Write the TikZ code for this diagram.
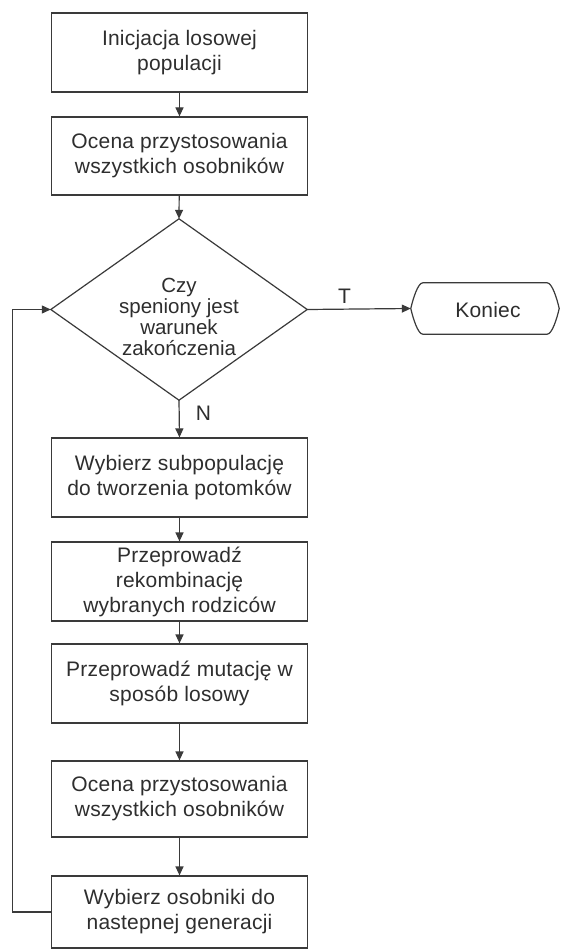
\documentclass[tikz,border=0pt]{standalone}
\usepackage{fontspec}
\setmainfont{Liberation Sans}
\newfontfamily\spacedfont[LetterSpace=1]{Liberation Sans}
\usetikzlibrary{arrows.meta,calc}
\definecolor{ink}{HTML}{2E2E2E}
\definecolor{edge}{HTML}{3A3A3A}
\begin{document}
\begin{tikzpicture}[x=1pt,y=-1pt,
  every node/.style={text=ink},
  txt/.style={font=\spacedfont\fontsize{21}{25}\selectfont, align=center, inner sep=0pt},
  stepbox/.style={txt, draw=edge, line width=1.2pt, minimum width=256pt},
  shapeline/.style={draw=edge, line width=1.2pt},
  arr/.style={draw=edge, line width=1.2pt, -{Triangle[length=9pt,width=8pt]}},
  lbl/.style={font=\fontsize{21}{22}\selectfont, inner sep=0pt}]
\useasboundingbox (0,0) rectangle (561,952);
\fill[white] (0,0) rectangle (561,952);

\node[stepbox, minimum height=79pt] (b1) at (179.5,52.5) {Inicjacja losowej\\populacji};
\node[stepbox, minimum height=78pt] (b2) at (179.5,156) {Ocena przystosowania\\wszystkich osobników};

\node[minimum width=256pt, minimum height=181pt, inner sep=0pt] (d) at (179,309.5) {};
\draw[shapeline] (d.north) -- (d.east) -- (d.south) -- (d.west) -- cycle;
\node[txt, font=\fontsize{20.5}{21}\selectfont] (dt) at (179,317) {Czy\\speniony jest\\warunek\\zakończenia};

\node[minimum width=148pt, minimum height=51pt, inner sep=0pt] (k) at (485,308.5) {};
\draw[shapeline]
  ($(k.north west)+(12,0)$) -- ($(k.north east)+(-12,0)$)
  .. controls +(5,0) and +(-2,-9) .. (k.east)
  .. controls +(-2,9) and +(5,0) .. ($(k.south east)+(-12,0)$)
  -- ($(k.south west)+(12,0)$)
  .. controls +(-5,0) and +(2,9) .. (k.west)
  .. controls +(2,-9) and +(-5,0) .. ($(k.north west)+(12,0)$) -- cycle;
\node[txt] (kt) at (488,310) {Koniec};

\node[stepbox, minimum height=79pt] (b3) at (179.5,477.5) {Wybierz subpopulację\\do tworzenia potomków};
\node[stepbox, minimum height=79pt] (b4) at (179.5,581.5) {Przeprowadź\\rekombinację\\wybranych rodziców};
\node[stepbox, minimum height=79pt] (b5) at (179.5,683.5) {Przeprowadź mutację w\\sposób losowy};
\node[stepbox, minimum height=76pt] (b6) at (179.5,799) {Ocena przystosowania\\wszystkich osobników};
\node[stepbox, minimum height=72pt] (b7) at (179.5,912) {Wybierz osobniki do\\nastepnej generacji};

\draw[arr] (b1) -- (b2);
\draw[arr] (b2) -- (d.north);
\draw[arr] (d.east) -- (k.west) node[lbl, pos=0.36, above=5pt] (tl) {T};
\draw[arr] (d.south) -- (b3.north) node[lbl, pos=0.35, anchor=west, xshift=16pt] (nl) {N};
\draw[arr] (b3) -- (b4);
\draw[arr] (b4) -- (b5);
\draw[arr] (b5) -- (b6);
\draw[arr] (b6) -- (b7);
\draw[arr] (b7.west) -- ++(-38.5,0) |- (d.west);
\end{tikzpicture}
\end{document}
